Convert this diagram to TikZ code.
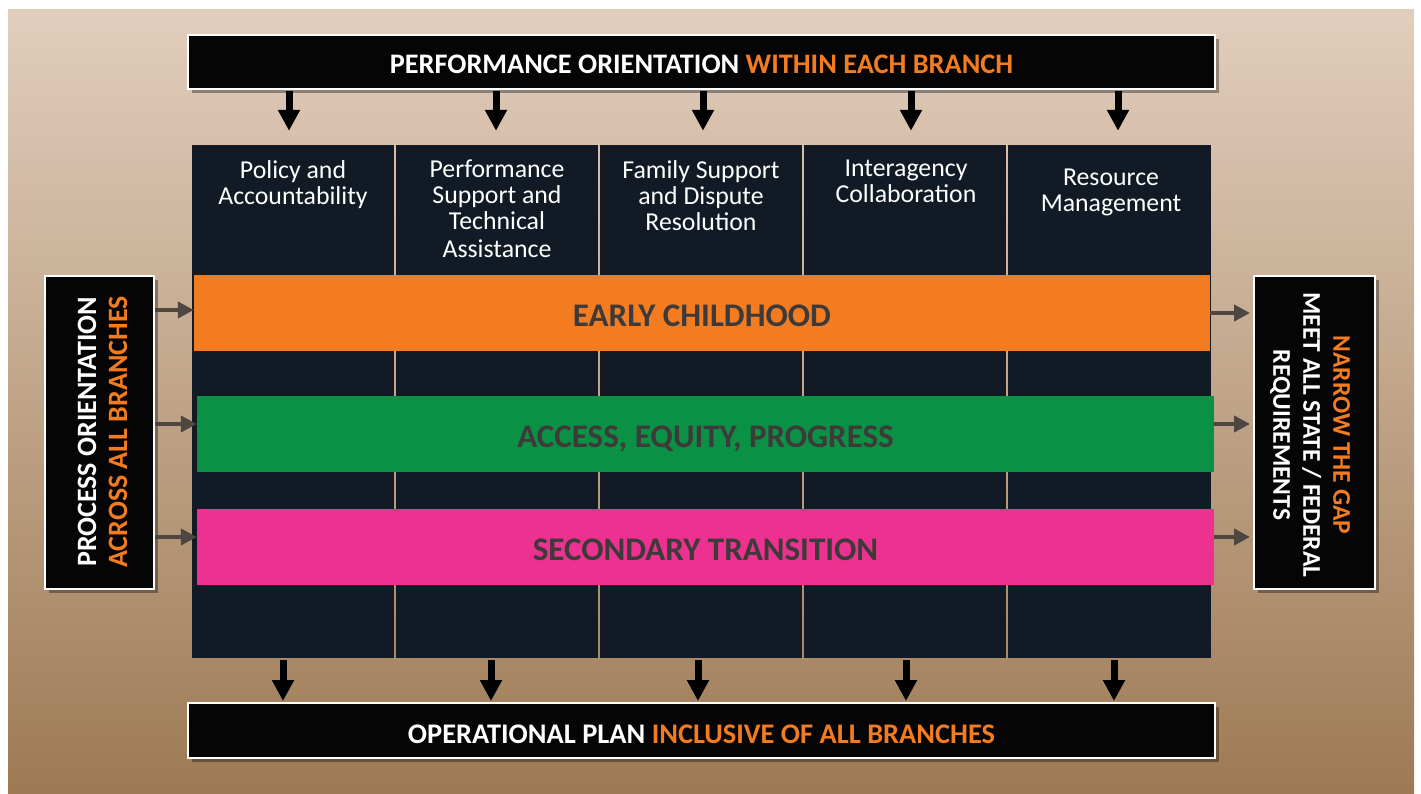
\documentclass[tikz,border=0pt]{standalone}
\usepackage{fontspec}
\setmainfont{Carlito}
\usetikzlibrary{arrows.meta,shadows,calc}
\definecolor{bgtop}{HTML}{E2CEBD}
\definecolor{bgbot}{HTML}{9D7A54}
\definecolor{gridc}{HTML}{121B25}
\definecolor{orng}{HTML}{F47C20}
\definecolor{grn}{HTML}{0A9146}
\definecolor{pnk}{HTML}{EC3190}
\definecolor{bandtxt}{HTML}{3E3A39}
\definecolor{garr}{HTML}{4E4641}
\tikzset{
  blackbox/.style={rectangle, fill=black!98, draw=white, line width=2pt, inner sep=0pt,
    drop shadow={shadow xshift=4pt, shadow yshift=-4pt, opacity=0.35, fill=black}},
  titletext/.style={text=white, font=\bfseries\fontsize{28.3}{31}\selectfont, inner sep=0pt, align=center},
  colbox/.style={rectangle, fill=gridc, draw=none, inner sep=0pt, minimum height=513pt},
  headtext/.style={text=white, font=\fontsize{25.8}{26}\selectfont, inner sep=0pt, align=center, anchor=north},
  band/.style={rectangle, draw=none, inner sep=0pt, minimum height=75.5pt, text=bandtxt,
    text height=27pt, text depth=0pt, font=\bfseries\fontsize{33}{36}\selectfont},
  blackarrow/.style={draw=black, line width=7pt, -{Triangle[width=21pt,length=21pt]}},
  grayarrow/.style={draw=garr, line width=4.5pt, -{Triangle[width=16pt,length=16pt]}}
}
\begin{document}
\begin{tikzpicture}[x=1pt,y=-1pt]
\useasboundingbox (0,0) rectangle (1421,794);
\fill[white] (0,0) rectangle (1421,794);
\shade[top color=bgtop, bottom color=bgbot] (8,10) rectangle (1414,794);

% top and bottom boxes
\node[blackbox, minimum width=1027pt, minimum height=54pt] (top) at (701.5,62) {};
\node[titletext] (toptext) at (701.5,64.5) {PERFORMANCE ORIENTATION \textcolor{orng}{WITHIN EACH BRANCH}};
\node[blackbox, minimum width=1027pt, minimum height=55pt] (bot) at (701.5,730.5) {};
\node[titletext, font=\bfseries\fontsize{28.4}{31}\selectfont] (bottext) at (701.5,734) {OPERATIONAL PLAN \textcolor{orng}{INCLUSIVE OF ALL BRANCHES}};

% columns
\node[colbox, minimum width=202pt] (c1) at (293,401.5) {};
\node[colbox, minimum width=202pt] (c2) at (497,401.5) {};
\node[colbox, minimum width=202pt] (c3) at (701,401.5) {};
\node[colbox, minimum width=202pt] (c4) at (905,401.5) {};
\node[colbox, minimum width=203pt] (c5) at (1109.5,401.5) {};

\node[headtext] (h1) at (293,160) {Policy and\\Accountability};
\node[headtext] (h2) at (497,160) {Performance\\Support and\\Technical\\[2pt]Assistance};
\node[headtext] (h3) at (701,160) {Family Support\\and Dispute\\Resolution};
\node[headtext] (h4) at (906,160) {Interagency\\Collaboration};
\node[headtext] (h5) at (1111,168.5) {Resource\\Management};

% bands
\node[band, fill=orng, minimum width=1016pt] (b1) at (702,312.75) {EARLY CHILDHOOD};
\node[band, fill=grn, minimum width=1017pt] (b2) at (705.5,433.75) {ACCESS, EQUITY, PROGRESS};
\node[band, fill=pnk, minimum width=1017pt] (b3) at (705.5,546.75) {SECONDARY TRANSITION};

% side boxes
\node[blackbox, minimum width=109pt, minimum height=313pt] (lbox) at (99.5,432.5) {};
\node[titletext, font=\bfseries\fontsize{28}{31}\selectfont, rotate=90] (ltext) at (102.5,432) {PROCESS ORIENTATION\\\textcolor{orng}{ACROSS ALL BRANCHES}};
\node[blackbox, minimum width=121pt, minimum height=313pt] (rbox) at (1314.5,432.5) {};
\node[titletext, font=\bfseries\fontsize{25.5}{30}\selectfont, rotate=-90] (rtext) at (1310,435) {\textcolor{orng}{NARROW THE GAP}\\MEET ALL STATE / FEDERAL\\REQUIREMENTS};

% arrow positions
\coordinate (t1) at (289,0); \coordinate (t2) at (496,0); \coordinate (t3) at (703,0);
\coordinate (t4) at (911,0); \coordinate (t5) at (1118,0);
\coordinate (u1) at (283,0); \coordinate (u2) at (491,0); \coordinate (u3) at (698,0);
\coordinate (u4) at (906,0); \coordinate (u5) at (1114,0);
\coordinate (la1) at (0,310); \coordinate (la2) at (0,424); \coordinate (la3) at (0,537);
\coordinate (ra1) at (0,313); \coordinate (ra2) at (0,424); \coordinate (ra3) at (0,537);

\foreach \i in {1,...,5} {
  \draw[blackarrow, shorten <=1pt, shorten >=14pt] (top.south -| t\i) -- (c\i.north -| t\i);
  \draw[blackarrow, shorten <=2pt, shorten >=1pt] (c\i.south -| u\i) -- (bot.north -| u\i);
}
\draw[grayarrow] (lbox.east |- la1) -- (b1.west |- la1);
\draw[grayarrow] (lbox.east |- la2) -- (b2.west |- la2);
\draw[grayarrow] (lbox.east |- la3) -- (b3.west |- la3);
\draw[grayarrow, shorten >=3pt] (b1.east |- ra1) -- (rbox.west |- ra1);
\draw[grayarrow, shorten >=3pt] (b2.east |- ra2) -- (rbox.west |- ra2);
\draw[grayarrow, shorten >=3pt] (b3.east |- ra3) -- (rbox.west |- ra3);
\end{tikzpicture}
\end{document}
